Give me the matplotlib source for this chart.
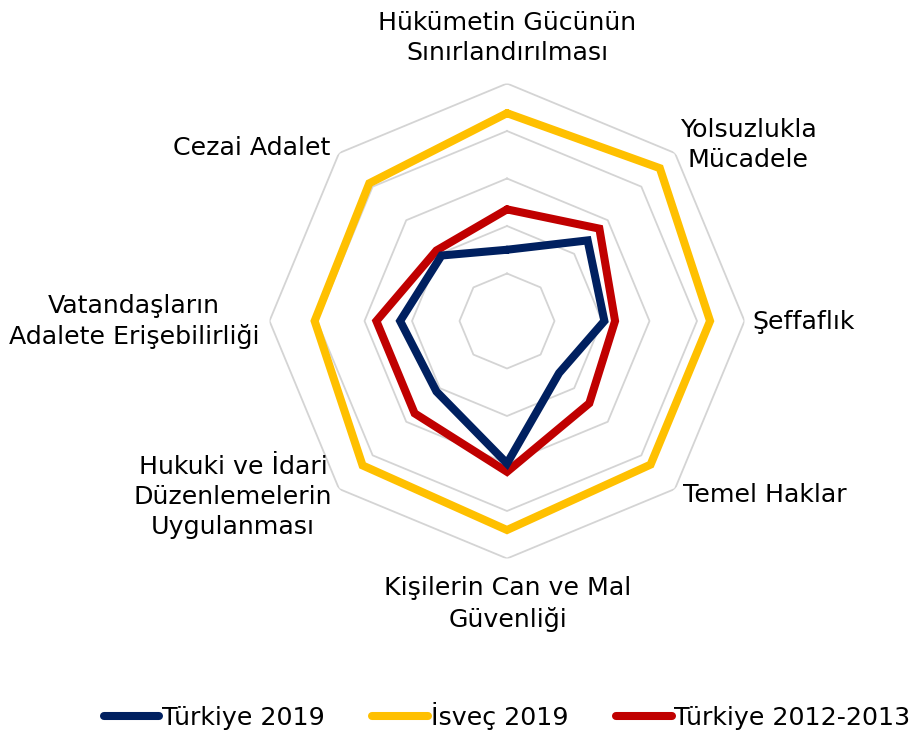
import matplotlib
matplotlib.use("Agg")
import matplotlib.pyplot as plt
from matplotlib.lines import Line2D
import numpy as np

# ─── Data ─────────────────────────────────────────────────────────────────────
categories = [
    "Hükümetin Gücünün\nSınırlandırılması",
    "Yolsuzlukla\nMücadele",
    "Şeffaflık",
    "Temel Haklar",
    "Kişilerin Can ve Mal\nGüvenliği",
    "Hukuki ve İdari\nDüzenlemelerin\nUygulanması",
    "Vatandaşların\nAdalete Erişebilirliği",
    "Cezai Adalet",
]
turkiye_2019 = [0.30, 0.48, 0.41, 0.31, 0.60, 0.42, 0.45, 0.39]
isvec_2019 = [0.875, 0.91, 0.855, 0.855, 0.88, 0.86, 0.81, 0.82]
turkiye_2012 = [0.47, 0.55, 0.455, 0.49, 0.635, 0.55, 0.55, 0.42]
ring_levels = [0.2, 0.4, 0.6, 0.8, 1.0]

NAVY = "#002060"
YELLOW = "#FFC000"
RED = "#C00000"
GRID = "#D4D4D4"
W, H = 918, 734
FS = 18.2

plt.rcParams["font.family"] = ["DejaVu Sans"]

fig = plt.figure(figsize=(W / 100, H / 100), dpi=100)
fig.patch.set_facecolor("white")

# polar axes centred at ~(507, 321) px, radius ~237 px
cx, cy, rad = 507, 321, 237.5
ax = fig.add_axes([(cx - rad) / W, (H - cy - rad) / H, 2 * rad / W, 2 * rad / H],
                  projection="polar")
ax.set_theta_zero_location("N")
ax.set_theta_direction(-1)
ax.set_ylim(0, 1)
ax.grid(False)
ax.spines["polar"].set_visible(False)
ax.set_xticks([])
ax.set_yticks([])
ax.patch.set_alpha(0)

n = len(categories)
theta = np.linspace(0, 2 * np.pi, n, endpoint=False)
theta_c = np.append(theta, theta[0])

# octagonal gridlines
for lvl in ring_levels:
    ax.plot(theta_c, [lvl] * (n + 1), color=GRID, lw=1.3, zorder=1)


def closed(vals):
    return list(vals) + [vals[0]]


series = [
    ("İsveç 2019", isvec_2019, YELLOW, 3),
    ("Türkiye 2012-2013", turkiye_2012, RED, 4),
    ("Türkiye 2019", turkiye_2019, NAVY, 5),
]
for label, vals, color, z in series:
    ax.plot(theta_c, closed(vals), color=color, lw=5.8, zorder=z,
            solid_joinstyle="miter", solid_capstyle="round")

# category labels (pixel anchors)
label_pos = [
    (507, 38, "center"),
    (748, 145, "center"),
    (752, 322, "left"),
    (683, 495, "left"),
    (508, 604, "center"),
    (233, 497, "center"),
    (134, 322, "center"),
    (252, 148, "center"),
]
for txt, (x, y, ha) in zip(categories, label_pos):
    fig.text(x / W, 1 - y / H, txt, ha=ha, va="center", multialignment="center",
             fontsize=FS, color="black", linespacing=1.3)

# legend
handles = [
    Line2D([], [], color=NAVY, lw=5.8, solid_capstyle="round"),
    Line2D([], [], color=YELLOW, lw=5.8, solid_capstyle="round"),
    Line2D([], [], color=RED, lw=5.8, solid_capstyle="round"),
]
fig.legend(handles, ["Türkiye 2019", "İsveç 2019", "Türkiye 2012-2013"],
           loc="center", bbox_to_anchor=(507 / W, 1 - 716 / H), ncol=3,
           frameon=False, fontsize=FS, handlelength=2.2, handletextpad=0.1,
           columnspacing=1.9)

fig.savefig("out.png", dpi=100, facecolor="white")
